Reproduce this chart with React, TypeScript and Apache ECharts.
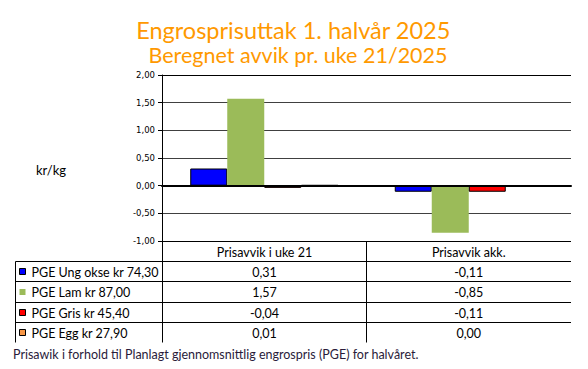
import React, { useEffect, useRef } from "react";
import * as echarts from "echarts";

const titleLines = ["Engrosprisuttak 1. halvår 2025", "Beregnet avvik pr. uke 21/2025"];
const categories = ["Prisavvik i uke 21", "Prisavvik akk."];
const seriesNames = ["PGE Ung okse kr 74,30", "PGE Lam kr 87,00", "PGE Gris kr 45,40", "PGE Egg kr 27,90"];
const ungOkse = [0.31, -0.11];
const lam = [1.57, -0.85];
const gris = [-0.04, -0.11];
const egg = [0.01, 0.0];
const seriesValues = [ungOkse, lam, gris, egg];
const seriesColors = ["#0000FF", "#9BBB59", "#FF0000", "#F79646"];
const seriesBorders = [1, 0, 1, 1];
const yMin = -1;
const yMax = 2;
const yInterval = 0.5;
const unitLabel = "kr/kg";
const footnote = "Prisawik i forhold til Planlagt gjennomsnittlig engrospris (PGE) for halvåret.";

const fmt = (v: number) => v.toFixed(2).replace(".", ",");

export default function App() {
  const ref = useRef<HTMLDivElement>(null);
  useEffect(() => {
    document.body.style.margin = "0";
    const chart = echarts.init(ref.current!, null, { renderer: "svg" });
    const tf = "Lato, 'Open Sans', sans-serif";
    const xL = 15.5, xA = 162.5, xB = 366.5, xR = 571;
    const rowY = [241.5, 261.5, 281.5, 302.5, 322.5, 342.5];
    const colC = [(xA + xB) / 2, (xB + xR) / 2];
    const g: any[] = [];
    const line = (x1: number, y1: number, x2: number, y2: number) =>
      g.push({ type: "line", silent: true, shape: { x1, y1, x2, y2 }, style: { stroke: "#000", lineWidth: 1 }, z: 10 });
    for (let i = 1; i <= 4; i++) line(xL, rowY[i], xR, rowY[i]);
    line(xL, rowY[1], xL, rowY[5]);
    line(xA, rowY[0], xA, rowY[5]);
    line(xB, rowY[0], xB, rowY[5]);
    categories.forEach((c, j) =>
      g.push({ type: "text", x: colC[j], y: (rowY[0] + rowY[1]) / 2 + 0.5, style: { text: c, font: `12.5px ${tf}`, fill: "#000", align: "center", verticalAlign: "middle" } })
    );
    seriesNames.forEach((n, i) => {
      const cy = (rowY[i + 1] + rowY[i + 2]) / 2 + 0.5;
      g.push({ type: "rect", shape: { x: 19.5, y: cy - 3.5, width: 6, height: 6 }, style: { fill: seriesColors[i], stroke: seriesBorders[i] ? "#000" : null, lineWidth: 1 } });
      g.push({ type: "text", x: 31.5, y: cy, style: { text: n, font: `12.5px ${tf}`, fill: "#000", align: "left", verticalAlign: "middle" } });
      seriesValues[i].forEach((v, j) =>
        g.push({ type: "text", x: colC[j], y: cy, style: { text: fmt(v), font: `12.5px ${tf}`, fill: "#000", align: "center", verticalAlign: "middle" } })
      );
    });
    g.push({ type: "text", x: 293.3, y: 29.5, style: { text: titleLines[0], font: `23.5px ${tf}`, fill: "#FF9900", align: "center", verticalAlign: "middle" } });
    g.push({ type: "text", x: 298, y: 55, style: { text: titleLines[1], font: `21.5px ${tf}`, fill: "#FF9900", align: "center", verticalAlign: "middle" } });
    g.push({ type: "text", x: 36, y: 170, style: { text: unitLabel, font: `13px ${tf}`, fill: "#000", align: "left", verticalAlign: "middle" } });
    g.push({ type: "text", x: 13, y: 354, style: { text: footnote, font: `12.5px ${tf}`, fill: "#2A1B3A", align: "left", verticalAlign: "middle" } });

    const splitColors: string[] = [];
    const nLines = Math.round((yMax - yMin) / yInterval) + 1;
    for (let i = 0; i < nLines; i++) splitColors.push(i === 0 || i === nLines - 1 ? "#000" : "#404040");

    chart.setOption({
      animation: false,
      grid: { left: 162, right: 17, top: 75, bottom: 128, containLabel: false },
      xAxis: {
        type: "category",
        data: categories,
        axisLabel: { show: false },
        axisTick: { show: false },
        axisLine: { onZero: true, lineStyle: { color: "#000", width: 2 } },
        z: 5,
      },
      yAxis: {
        type: "value",
        min: yMin,
        max: yMax,
        interval: yInterval,
        axisLabel: { formatter: (v: number) => fmt(v), fontFamily: "DejaVu Sans", fontSize: 8.5, color: "#000", margin: 7 },
        axisTick: { show: true, length: 4, lineStyle: { color: "#000" } },
        axisLine: { show: true, lineStyle: { color: "#000", width: 1 } },
        splitLine: { show: true, lineStyle: { color: splitColors, width: 1 } },
      },
      series: seriesNames.map((n, i) => ({
        name: n,
        type: "bar",
        data: seriesValues[i],
        barWidth: 37,
        barGap: "0%",
        itemStyle: { color: seriesColors[i], borderColor: "#000", borderWidth: seriesBorders[i] },
      })),
      graphic: g,
    });
    return () => chart.dispose();
  }, []);
  return <div ref={ref} style={{ width: 588, height: 369 }} />;
}
